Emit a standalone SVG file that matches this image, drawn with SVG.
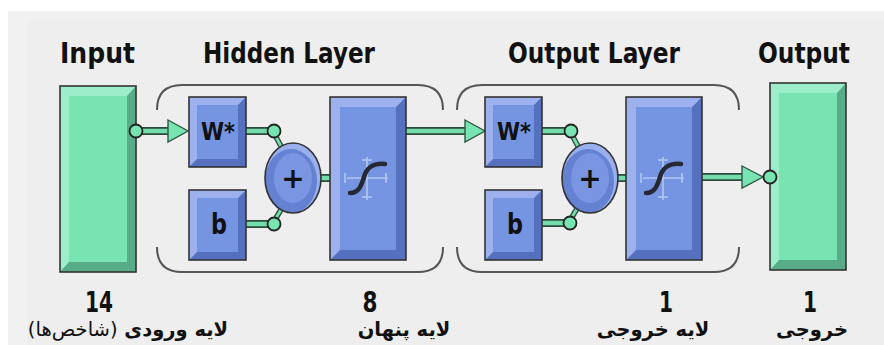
<svg xmlns="http://www.w3.org/2000/svg" width="884" height="345" viewBox="0 0 884 345">
<defs>
<style>
.title{font-family:"DejaVu Sans","Liberation Sans",sans-serif;font-weight:bold;font-size:28px;fill:#111}
.num{font-family:"DejaVu Sans","Liberation Sans",sans-serif;font-weight:bold;font-size:29px;fill:#111;text-anchor:middle}
.fa{font-family:"DejaVu Sans","Noto Sans",sans-serif;font-weight:bold;font-size:19.5px;fill:#111;text-anchor:middle}
.lbl{font-family:"DejaVu Sans","Liberation Sans",sans-serif;font-weight:bold;fill:#111;text-anchor:middle}
.out{fill:none;stroke:#333;stroke-width:1.6}
.gDark{fill:#58ad88}.gLight{fill:#9decca}.gFace{fill:#78e4b2}
.bDark{fill:#5571bd}.bLight{fill:#9cb1ee}.bFace{fill:#7594e2}
.wireO{stroke:#2e4a3c;stroke-width:8;fill:none}
.wireI{stroke:#72dcaa;stroke-width:4.5;fill:none}
.wireOs{stroke:#2e4a3c;stroke-width:5.5;fill:none}
.wireIs{stroke:#72dcaa;stroke-width:2.8;fill:none}
.port{fill:#78e4b2;stroke:#222;stroke-width:1.8}
.arrow{fill:#78e4b2;stroke:#2e5a45;stroke-width:1.4}
.brk{fill:none;stroke:#555;stroke-width:2}
.sig{fill:none;stroke:#262836;stroke-width:4.5;stroke-linecap:round}
.spk{stroke:#c4d2f6;stroke-width:1.6;opacity:0.8}
</style>
</defs>
<rect x="0" y="0" width="884" height="345" fill="#ffffff"/>
<rect x="8" y="11" width="876" height="334" fill="#f1f1f1"/>
<rect x="27" y="20" width="857" height="325" fill="#eeeeee"/>

<!-- Titles -->
<text class="title" x="60" y="63" textLength="75" lengthAdjust="spacingAndGlyphs">Input</text>
<text class="title" x="203" y="63" textLength="172" lengthAdjust="spacingAndGlyphs">Hidden Layer</text>
<text class="title" x="508" y="63" textLength="172" lengthAdjust="spacingAndGlyphs">Output Layer</text>
<text class="title" x="758" y="63" textLength="92" lengthAdjust="spacingAndGlyphs">Output</text>

<!-- Brackets -->
<g id="hidden-bracket">
<path class="brk" d="M157,110 Q157,85 182,85 L418,85 Q443,85 443,110"/>
<path class="brk" d="M157,247 Q157,272 182,272 L418,272 Q443,272 443,247"/>
</g>
<g id="output-bracket">
<path class="brk" d="M457,110 Q457,85 482,85 L714,85 Q739,85 739,110"/>
<path class="brk" d="M457,247 Q457,272 482,272 L714,272 Q739,272 739,247"/>
</g>

<!-- Connectors -->
<g id="connectors">
<path class="wireO" d="M142,131 H170"/><path class="wireI" d="M142,131 H170"/>
<path class="wireO" d="M246,131 H268"/><path class="wireI" d="M245,131 H268"/>
<path class="wireO" d="M246,224 H268"/><path class="wireI" d="M245,224 H268"/>
<path class="wireOs" d="M276,137 L282,148"/><path class="wireIs" d="M276,137 L282,148"/>
<path class="wireOs" d="M276,218 L282,208"/><path class="wireIs" d="M276,218 L282,208"/>
<path class="wireO" d="M320,178 H331"/><path class="wireI" d="M319,178 H331"/>
<path class="wireO" d="M406,131 H467"/><path class="wireI" d="M405,131 H467"/>
<polygon class="arrow" points="168,120 188,131 168,142"/>
<polygon class="arrow" points="465,120 485,131 465,142"/>
<path class="wireO" d="M542,131 H565"/><path class="wireI" d="M541,131 H565"/>
<path class="wireO" d="M542,223 H564"/><path class="wireI" d="M541,223 H564"/>
<path class="wireOs" d="M573,137 L579,148"/><path class="wireIs" d="M573,137 L579,148"/>
<path class="wireOs" d="M572,217 L578,207"/><path class="wireIs" d="M572,217 L578,207"/>
<path class="wireO" d="M617,178 H627"/><path class="wireI" d="M616,178 H627"/>
<path class="wireO" d="M702,177 H744"/><path class="wireI" d="M701,177 H744"/>
<polygon class="arrow" points="742,166 763,177 742,188"/>
</g>

<!-- Input node -->
<g id="input">
<rect class="gDark" x="60" y="86" width="76" height="186"/>
<polygon class="gLight" points="60,86 136,86 127,96 69,96 69,262 60,272"/>
<rect class="gFace" x="69" y="96" width="58" height="166"/>
<rect class="out" x="60" y="86" width="76" height="186"/>
<circle class="port" cx="136" cy="131" r="6.5"/>
</g>

<!-- Hidden layer -->
<g id="hidden-w">
<rect class="bDark" x="189" y="97" width="57" height="70"/>
<polygon class="bLight" points="189,97 246,97 238,105 197,105 197,159 189,167"/>
<rect class="bFace" x="197" y="105" width="41" height="54"/>
<rect class="out" x="189" y="97" width="57" height="70"/>
<text class="lbl" x="218" y="140" font-size="24" textLength="34" lengthAdjust="spacingAndGlyphs">W*</text>
<circle class="port" cx="274" cy="131" r="6.5"/>
</g>
<g id="hidden-b">
<rect class="bDark" x="189" y="190" width="57" height="70"/>
<polygon class="bLight" points="189,190 246,190 238,198 197,198 197,252 189,260"/>
<rect class="bFace" x="197" y="198" width="41" height="54"/>
<rect class="out" x="189" y="190" width="57" height="70"/>
<text class="lbl" x="219" y="234" font-size="28" textLength="16" lengthAdjust="spacingAndGlyphs">b</text>
<circle class="port" cx="274" cy="224" r="6.5"/>
</g>
<g id="hidden-sum">
<ellipse cx="293" cy="178" rx="28" ry="35" fill="#9ab0ee"/>
<ellipse cx="291" cy="181" rx="26" ry="32" fill="#6582d2"/>
<ellipse cx="293" cy="178" rx="19" ry="25" fill="#7a96e2"/>
<ellipse cx="293" cy="178" rx="28" ry="35" class="out"/>
<text class="lbl" x="293" y="188" font-size="28">+</text>
</g>
<g id="hidden-transfer">
<rect class="bDark" x="330" y="97" width="76" height="163"/>
<polygon class="bLight" points="330,97 406,97 396,107 340,107 340,250 330,260"/>
<rect class="bFace" x="340" y="107" width="56" height="143"/>
<rect class="out" x="330" y="97" width="76" height="163"/>
<path class="spk" d="M347,178 H388 M367,157 V200 M345,173 V183 M386,173 V183 M362,160 H372 M362,197 H372"/>
<path class="sig" d="M350,193 C359,193 361,186 364,177 C367,167 373,163 385,164"/>
</g>

<!-- Output layer -->
<g id="output-w">
<rect class="bDark" x="485" y="97" width="57" height="70"/>
<polygon class="bLight" points="485,97 542,97 534,105 493,105 493,159 485,167"/>
<rect class="bFace" x="493" y="105" width="41" height="54"/>
<rect class="out" x="485" y="97" width="57" height="70"/>
<text class="lbl" x="514" y="140" font-size="24" textLength="34" lengthAdjust="spacingAndGlyphs">W*</text>
<circle class="port" cx="571" cy="131" r="6.5"/>
</g>
<g id="output-b">
<rect class="bDark" x="485" y="190" width="57" height="70"/>
<polygon class="bLight" points="485,190 542,190 534,198 493,198 493,252 485,260"/>
<rect class="bFace" x="493" y="198" width="41" height="54"/>
<rect class="out" x="485" y="190" width="57" height="70"/>
<text class="lbl" x="515" y="234" font-size="28" textLength="16" lengthAdjust="spacingAndGlyphs">b</text>
<circle class="port" cx="570" cy="223" r="6.5"/>
</g>
<g id="output-sum">
<ellipse cx="590" cy="178" rx="28" ry="35" fill="#9ab0ee"/>
<ellipse cx="588" cy="181" rx="26" ry="32" fill="#6582d2"/>
<ellipse cx="590" cy="178" rx="19" ry="25" fill="#7a96e2"/>
<ellipse cx="590" cy="178" rx="28" ry="35" class="out"/>
<text class="lbl" x="590" y="188" font-size="28">+</text>
</g>
<g id="output-transfer">
<rect class="bDark" x="626" y="97" width="76" height="163"/>
<polygon class="bLight" points="626,97 702,97 692,107 636,107 636,250 626,260"/>
<rect class="bFace" x="636" y="107" width="56" height="143"/>
<rect class="out" x="626" y="97" width="76" height="163"/>
<path class="spk" d="M643,178 H684 M663,157 V200 M641,173 V183 M682,173 V183 M658,160 H668 M658,197 H668"/>
<path class="sig" d="M646,193 C655,193 657,186 660,177 C663,167 669,163 681,164"/>
</g>

<!-- Output node -->
<g id="output">
<rect class="gDark" x="770" y="83" width="76" height="187"/>
<polygon class="gLight" points="770,83 846,83 837,93 779,93 779,260 770,270"/>
<rect class="gFace" x="779" y="93" width="58" height="167"/>
<rect class="out" x="770" y="83" width="76" height="187"/>
<circle class="port" cx="770" cy="177" r="6.5"/>
</g>

<!-- Bottom labels -->
<text class="num" x="99" y="312" textLength="28" lengthAdjust="spacingAndGlyphs">14</text>
<text class="num" x="370" y="312" textLength="15" lengthAdjust="spacingAndGlyphs">8</text>
<text class="num" x="666" y="312" textLength="14" lengthAdjust="spacingAndGlyphs">1</text>
<text class="num" x="810" y="312" textLength="14" lengthAdjust="spacingAndGlyphs">1</text>
<text class="fa" x="128" y="336" direction="rtl">لایه ورودی <tspan font-weight="normal">(شاخص‌ها)</tspan></text>
<text class="fa" x="404" y="336" direction="rtl">لایه پنهان</text>
<text class="fa" x="653" y="336" direction="rtl">لایه خروجی</text>
<text class="fa" x="812" y="336" direction="rtl">خروجی</text>
</svg>
